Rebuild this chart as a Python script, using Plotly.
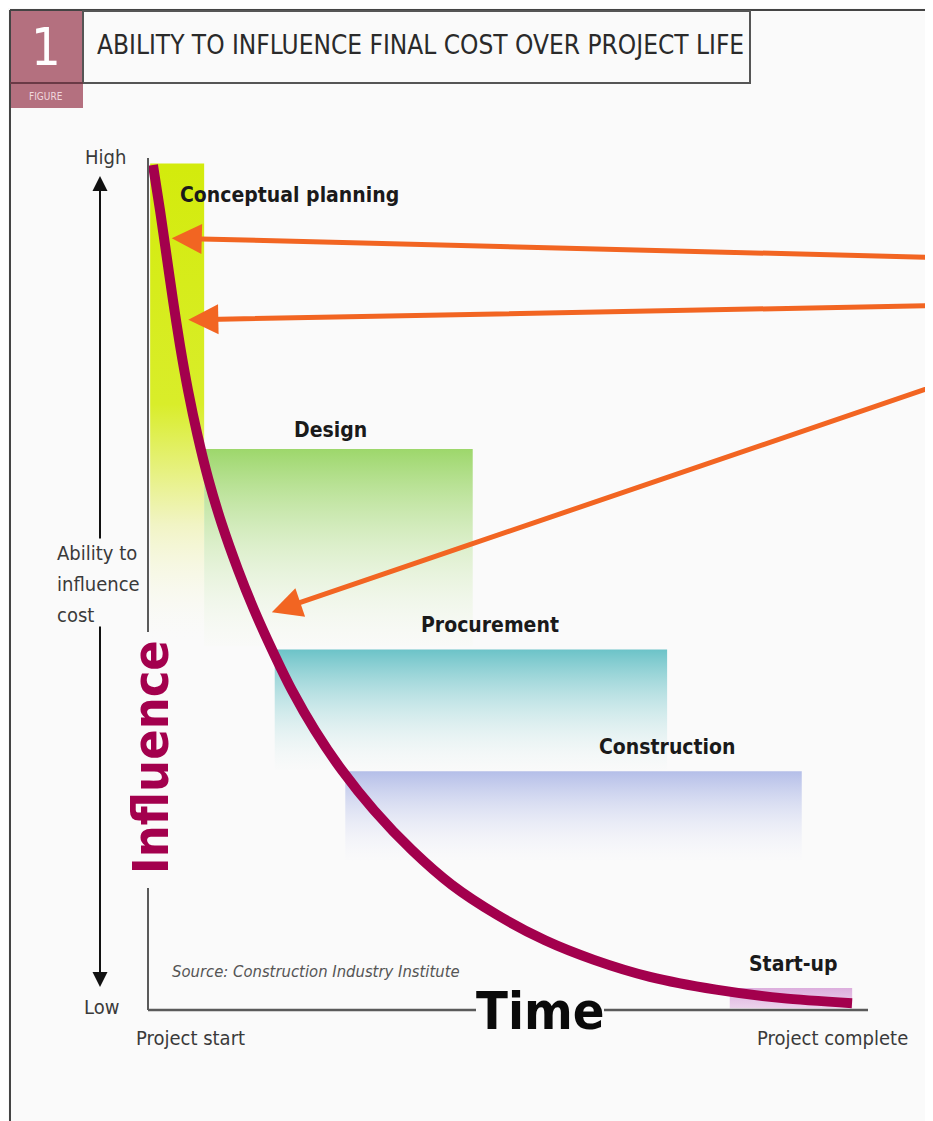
import plotly.graph_objects as go

W, H = 933, 1121

# ---------------- data ----------------
phases = ["Conceptual planning", "Design", "Procurement", "Construction", "Start-up"]
phase_start = [0.3, 7.8, 17.6, 27.4, 80.8]      # % of project time
phase_end = [7.8, 45.1, 72.1, 90.8, 97.8]
phase_top = [99.6, 66.0, 42.4, 28.1, 2.6]       # influence level (%)
phase_bottom = [43.0, 42.8, 28.2, 17.6, 0.2]

curve_time = [0.69, 1.67, 2.57, 3.47, 4.44, 5.56, 6.88, 8.40, 10.28, 12.50, 14.72, 17.22,
              20.0, 23.19, 26.94, 31.39, 36.67, 42.22, 48.47, 55.14, 61.94, 69.72, 78.89,
              88.06, 97.78]
curve_influence = [99.4, 94.1, 88.8, 83.5, 78.2, 72.9, 67.6, 62.4, 57.1, 51.8, 47.1, 42.4,
                   37.6, 32.9, 28.2, 23.5, 18.8, 14.7, 11.2, 8.2, 5.9, 3.9, 2.4, 1.4, 0.8]

# callout arrows: target point on the curve (time, influence) and tail point
arrow_head_time = [3.3, 5.6, 17.2]
arrow_head_infl = [90.8, 81.2, 46.8]
arrow_tail_time = [111.0, 111.0, 111.0]
arrow_tail_infl = [88.5, 82.9, 73.9]

phase_colors = [
    [[0, "rgba(250,250,246,0)"], [0.25, "#f1f4c4"], [0.5, "#d9ed2a"], [1, "#d3eb0c"]],
    [[0, "rgba(246,249,240,0.2)"], [1, "#9dd76b"]],
    [[0, "rgba(246,249,248,0.2)"], [1, "#6cc3c8"]],
    [[0, "rgba(247,247,251,0.2)"], [1, "#b4bee8"]],
    [[0, "#ecd3ec"], [1, "#dcaedd"]],
]

# ---------------- helpers (page pixel -> paper; page body has an 8px margin) ----------------
OFF = 8

def px(x):
    return (x - OFF) / W

def py(y):
    return 1 - (y - OFF) / H

FONT = "DejaVu Sans Condensed, Liberation Sans Narrow, sans-serif"
CURVE = "#a3004d"
ORANGE = "#f26522"
TXT = "#3a3a3a"

fig = go.Figure()

for i, name in enumerate(phases):
    x0, x1 = phase_start[i], phase_end[i]
    y0, y1 = phase_bottom[i], phase_top[i]
    fig.add_trace(go.Scatter(
        x=[x0, x1, x1, x0, x0], y=[y0, y0, y1, y1, y0],
        fill="toself", mode="lines", line=dict(width=0),
        fillgradient=dict(type="vertical", colorscale=phase_colors[i]),
        hoverinfo="skip", showlegend=False, name=name,
    ))

fig.add_trace(go.Scatter(
    x=curve_time, y=curve_influence, mode="lines",
    line=dict(color=CURVE, width=10, shape="spline", smoothing=0.8),
    showlegend=False, hoverinfo="skip",
))

# phase labels
label_pos = [(4.2, 95.9, "left"), (25.3, 68.2, "center"), (47.5, 45.3, "center"),
             (72.2, 30.9, "center"), (89.6, 5.4, "center")]
annotations = []
for name, (lx, ly, al) in zip(phases, label_pos):
    annotations.append(dict(
        x=lx, y=ly, xref="x", yref="y", text="<b>%s</b>" % name, showarrow=False,
        xanchor=al, yanchor="middle",
        font=dict(family=FONT, size=21, color="#1a1a1a"),
    ))

# orange callout arrows
for hx, hy, tx, ty in zip(arrow_head_time, arrow_head_infl, arrow_tail_time, arrow_tail_infl):
    annotations.append(dict(
        x=hx, y=hy, xref="x", yref="y", ax=tx, ay=ty, axref="x", ayref="y",
        text="", showarrow=True, arrowhead=2, arrowsize=1.2, arrowwidth=5,
        arrowcolor=ORANGE, standoff=0,
    ))

def ptext(x, y, text, size, color=TXT, anchor="center", **kw):
    return dict(x=px(x), y=py(y), xref="paper", yref="paper", xanchor=anchor,
                yanchor="middle", text=text, showarrow=False,
                font=dict(family=FONT, size=size, color=color), **kw)

annotations += [
    ptext(95, 45, "ABILITY TO INFLUENCE FINAL COST OVER PROJECT LIFE", 26, "#2a2a2a", "left"),
    ptext(46, 47, "1", 52, "white"),
    ptext(46, 96, "FIGURE", 10, "#f0d8de"),
    ptext(105, 157, "High", 20),
    ptext(101, 1007, "Low", 20),
    ptext(55, 553, "Ability to", 20, anchor="left"),
    ptext(55, 584, "influence", 20, anchor="left"),
    ptext(55, 615, "cost", 20, anchor="left"),
    ptext(151, 757, "<b>Influence</b>", 50, CURVE, textangle=-90),
    ptext(540, 1011, "<b>Time</b>", 52, "#0a0a0a"),
    ptext(190, 1038, "Project start", 20),
    ptext(832, 1038, "Project complete", 20),
    ptext(170, 971, "<i>Source: Construction Industry Institute</i>", 16.5, "#555555", "left"),
    # left up/down arrows (tail offset in pixels)
    dict(x=px(100), y=py(176), ax=0, ay=540 - 176, xref="paper", yref="paper",
         axref="pixel", ayref="pixel", text="", showarrow=True, arrowhead=2,
         arrowsize=1.5, arrowwidth=2, arrowcolor="#111111", standoff=0),
    dict(x=px(100), y=py(987), ax=0, ay=625 - 987, xref="paper", yref="paper",
         axref="pixel", ayref="pixel", text="", showarrow=True, arrowhead=2,
         arrowsize=1.5, arrowwidth=2, arrowcolor="#111111", standoff=0),
]

GREY = "#5a5a5a"

def pline(x0, y0, x1, y1, color, width):
    return dict(type="line", xref="paper", yref="paper", x0=px(x0), x1=px(x1),
                y0=py(y0), y1=py(y1), line=dict(color=color, width=width))

shapes = [
    # figure number badge
    dict(type="rect", xref="paper", yref="paper", x0=px(10), x1=px(83), y0=py(10), y1=py(108),
         fillcolor="#b4707f", line=dict(width=0), layer="below"),
    # outer frame
    pline(10, 10, 10, 1130, "#444444", 2),
    pline(10, 10, 945, 10, "#444444", 2),
    # title box
    dict(type="rect", xref="paper", yref="paper", x0=px(83), x1=px(750), y0=py(11), y1=py(83),
         fillcolor="rgba(0,0,0,0)", line=dict(color="#555555", width=2)),
    pline(10, 83, 83, 83, "#6a3a46", 2),
    # axes (broken by the big labels)
    pline(148, 158, 148, 632, GREY, 2),
    pline(148, 888, 148, 1010, GREY, 2),
    pline(148, 1010, 476, 1010, GREY, 2.5),
    pline(604, 1010, 868, 1010, GREY, 2.5),
]

fig.update_layout(
    width=W, height=H,
    margin=dict(l=0, r=0, t=0, b=0),
    paper_bgcolor="#fafafa", plot_bgcolor="rgba(0,0,0,0)",
    xaxis=dict(domain=[px(148), px(868)], range=[0, 100], visible=False, fixedrange=True),
    yaxis=dict(domain=[py(1010), py(160)], range=[0, 100], visible=False, fixedrange=True),
    annotations=annotations, shapes=shapes, showlegend=False,
)

fig.write_html("out.html")
